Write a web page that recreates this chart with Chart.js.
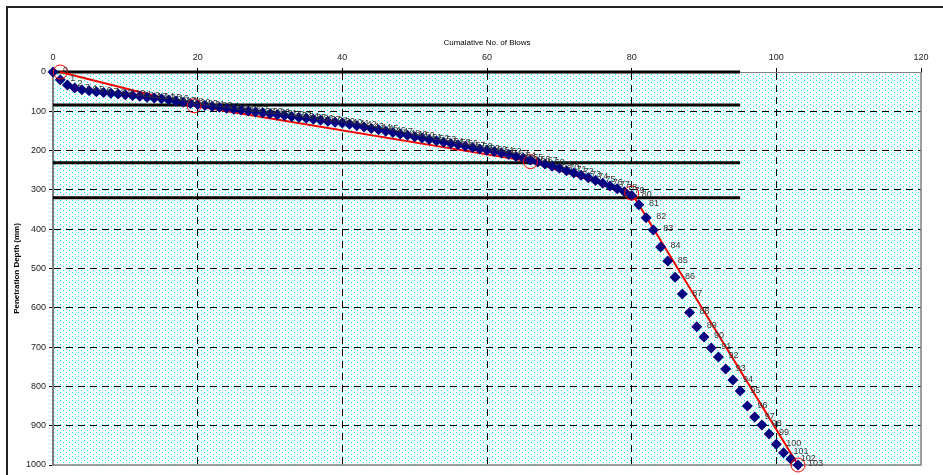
<!DOCTYPE html>
<html>
<head>
<meta charset="utf-8">
<script src="https://cdn.jsdelivr.net/npm/chart.js@4/dist/chart.umd.min.js"></script>
<style>
html, body { margin:0; padding:0; background:#fff; overflow:hidden; }
#frame { position:absolute; left:6px; top:6px; width:1000px; height:600px; border:2px solid #222; box-sizing:border-box; }
#wrap { position:absolute; left:0; top:0; width:943px; height:475px; }
</style>
</head>
<body>
<div id="frame"></div>
<div id="wrap"><canvas id="myChart" width="943" height="475"></canvas></div>
<script>
// cumulative blows and penetration depth (mm)
var blows = [
    0, 1, 2, 3, 4, 5, 6, 7, 8, 9, 10, 11, 12, 13, 14, 15, 16, 17, 18, 19,
    20, 21, 22, 23, 24, 25, 26, 27, 28, 29, 30, 31, 32, 33, 34, 35, 36, 37, 38, 39,
    40, 41, 42, 43, 44, 45, 46, 47, 48, 49, 50, 51, 52, 53, 54, 55, 56, 57, 58, 59,
    60, 61, 62, 63, 64, 65, 66, 67, 68, 69, 70, 71, 72, 73, 74, 75, 76, 77, 78, 79,
    80, 81, 82, 83, 84, 85, 86, 87, 88, 89, 90, 91, 92, 93, 94, 95, 96, 97, 98, 99,
    100, 101, 102, 103
];
var depth = [
    0, 20, 33, 41, 45, 48, 50, 52, 54, 56, 58, 60, 62, 64, 66, 68, 71, 74, 77, 80,
    83, 85, 88, 90, 92, 95, 97, 99, 102, 104, 106, 109, 111, 113, 116, 118, 120, 123, 125, 128,
    130, 133, 137, 140, 144, 147, 151, 154, 158, 161, 165, 168, 172, 175, 179, 182, 185, 189, 192, 196,
    199, 202, 206, 210, 215, 219, 224, 229, 234, 240, 245, 251, 257, 263, 269, 276, 283, 290, 297, 305,
    314, 338, 371, 402, 445, 481, 522, 565, 612, 648, 674, 702, 725, 756, 784, 812, 850, 878, 898, 921,
    947, 969, 985, 1000
];

// red layer fit (break points circled)
var fitBlows = [1, 19.5, 66, 80, 103];
var fitDepth = [0, 86, 228, 308, 1000];

// black layer boundaries
var layerDepth = [0, 84, 231, 320];
var layerFrom = 0, layerTo = 95;

var xTicks = [0, 20, 40, 60, 80, 100, 120];
var yTicks = [0, 100, 200, 300, 400, 500, 600, 700, 800, 900, 1000];

Chart.defaults.font.family = '"Liberation Sans", Arial, sans-serif';
Chart.defaults.color = '#000';

var plotBackground = {
    id: 'plotBackground',
    beforeDraw(chart) {
        var ctx = chart.ctx, a = chart.chartArea;
        var tile = document.createElement('canvas');
        tile.width = 6; tile.height = 4;
        var t = tile.getContext('2d');
        t.fillStyle = '#fff'; t.fillRect(0, 0, 6, 4);
        t.fillStyle = '#00ffff'; t.fillRect(0, 0, 1, 1); t.fillRect(3, 2, 1, 1);
        ctx.save();
        ctx.fillStyle = ctx.createPattern(tile, 'repeat');
        ctx.fillRect(a.left, a.top, a.right - a.left, a.bottom - a.top);
        ctx.restore();
    },
    beforeDatasetsDraw(chart) {
        var ctx = chart.ctx, a = chart.chartArea;
        ctx.save();
        ctx.strokeStyle = '#808080';
        ctx.lineWidth = 1.5;
        ctx.beginPath();
        ctx.moveTo(a.right, a.top); ctx.lineTo(a.right, a.bottom); ctx.lineTo(a.left, a.bottom);
        ctx.stroke();
        ctx.restore();
    }
};

var pointLabels = {
    id: 'pointLabels',
    afterDatasetsDraw(chart) {
        var idx = chart.data.datasets.findIndex(d => d.label === 'Blows');
        var meta = chart.getDatasetMeta(idx);
        var ctx = chart.ctx;
        ctx.save();
        ctx.font = '9px "Liberation Sans", Arial, sans-serif';
        ctx.fillStyle = '#333';
        ctx.textBaseline = 'middle';
        meta.data.forEach(function(pt, i) {
            ctx.fillText(String(blows[i]), pt.x + 10, pt.y - 1);
        });
        ctx.restore();
    }
};

var layerSets = layerDepth.map(function(d) {
    return {
        label: 'layer ' + d,
        data: [{x: layerFrom, y: d}, {x: layerTo, y: d}],
        showLine: true, borderColor: '#000', borderWidth: 3,
        pointRadius: 0, clip: false, order: 3
    };
});

var ctx = document.getElementById('myChart');
var myChart = new Chart(ctx, {
    type: 'scatter',
    data: {
        datasets: layerSets.concat([
            {
                label: 'fit',
                data: fitBlows.map((b, i) => ({x: b, y: fitDepth[i]})),
                showLine: true, borderColor: '#ff0000', borderWidth: 2,
                pointRadius: 0, clip: false, order: 2
            },
            {
                label: 'Blows',
                data: blows.map((b, i) => ({x: b, y: depth[i]})),
                pointStyle: 'rectRot', pointRadius: 5.5,
                backgroundColor: '#000080', borderColor: '#000080', borderWidth: 0,
                clip: false, order: 1
            },
            {
                label: 'breaks',
                data: fitBlows.map((b, i) => ({x: b, y: fitDepth[i]})),
                pointStyle: 'circle', pointRadius: 7,
                backgroundColor: 'rgba(0,0,0,0)', borderColor: '#ff0000', borderWidth: 1,
                clip: false, order: 0
            }
        ])
    },
    options: {
        responsive: false,
        animation: false,
        layout: { padding: { left: 8, top: 38, right: 22, bottom: 10 } },
        plugins: { legend: { display: false }, tooltip: { enabled: false } },
        scales: {
            x: {
                type: 'linear', position: 'top', min: 0, max: 120,
                afterFit: s => { s.height = 34; },
                afterBuildTicks: s => { s.ticks = xTicks.map(v => ({value: v})); },
                ticks: { font: { size: 9 }, padding: 5, maxRotation: 0, color: '#222', callback: v => String(v) },
                grid: {
                    color: c => (c.tick && c.tick.value > 0 && c.tick.value < 120) ? '#000' : 'rgba(0,0,0,0)',
                    tickColor: '#000', tickLength: 4
                },
                border: { color: '#808080', width: 1, dash: [7, 5] },
                title: { display: true, text: 'Cumalative No. of Blows', font: { size: 8 }, padding: 0 }
            },
            y: {
                type: 'linear', reverse: true, min: 0, max: 1000,
                afterFit: s => { s.width = 45; },
                afterBuildTicks: s => { s.ticks = yTicks.map(v => ({value: v})); },
                ticks: { font: { size: 9 }, padding: 3, color: '#222', callback: v => String(v) },
                grid: {
                    color: c => (c.tick && c.tick.value > 0 && c.tick.value < 1000) ? '#000' : 'rgba(0,0,0,0)',
                    tickColor: '#000', tickLength: 4
                },
                border: { color: '#808080', width: 2, dash: [7, 5] },
                title: { display: true, text: 'Penetration Depth (mm)', font: { size: 8, weight: 'bold' }, padding: { top: 4, bottom: 0 } }
            }
        }
    },
    plugins: [plotBackground, pointLabels]
});
</script>
</body>
</html>
